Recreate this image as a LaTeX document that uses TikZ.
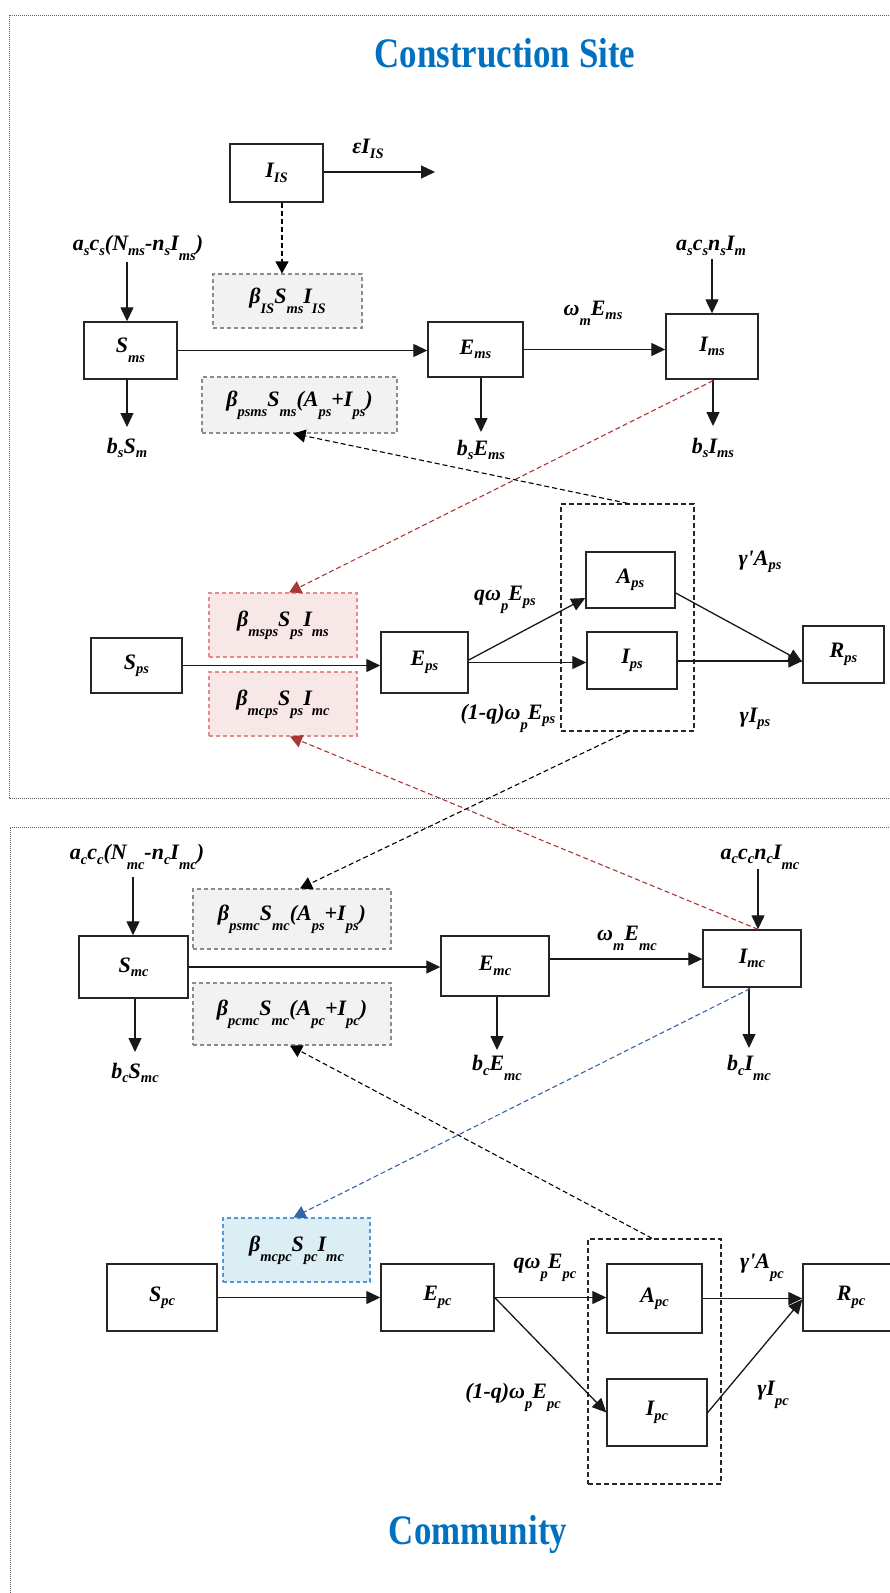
\documentclass[tikz,border=0pt]{standalone}
\usepackage{fontspec}
\setmainfont{Liberation Serif}
\newfontfamily\titlefont[FakeStretch=0.83]{Liberation Serif}
\usetikzlibrary{arrows.meta,calc}
\newcommand\ssb[1]{\raisebox{-0.2em}{\fontsize{14.5}{14.5}\selectfont #1}}
\newcommand\dsb[1]{\raisebox{-0.45em}{\fontsize{14.5}{14.5}\selectfont #1}}
\newcommand\apo{\textquotesingle}
\definecolor{ttl}{RGB}{0,112,192}
\definecolor{dred}{RGB}{170,55,55}
\definecolor{dblue}{RGB}{55,100,165}
\definecolor{pinkfill}{RGB}{248,231,231}
\definecolor{pinkdraw}{RGB}{228,140,140}
\definecolor{bluefill}{RGB}{219,238,244}
\definecolor{bluedraw}{RGB}{80,150,225}
\definecolor{grayfill}{RGB}{242,242,242}
\definecolor{graydraw}{RGB}{140,140,140}
\definecolor{frm}{RGB}{90,90,90}
\tikzset{
  every node/.style={font=\fontsize{22}{25}\selectfont\bfseries\itshape, inner sep=0pt},
  box/.style={draw=black!85, line width=1.4pt, fill=white},
  gbox/.style={draw=graydraw, dash pattern=on 4pt off 3pt, line width=1.1pt, fill=grayfill},
  pbox/.style={draw=pinkdraw, dash pattern=on 4pt off 3pt, line width=1.1pt, fill=pinkfill},
  bbox/.style={draw=bluedraw, dash pattern=on 4pt off 3pt, line width=1.1pt, fill=bluefill},
  grp/.style={draw=black!85, dash pattern=on 5pt off 3pt, line width=1.4pt},
  arr/.style={-{Triangle[length=14pt,width=13pt]}, line width=1.3pt, black!90},
  darr/.style={-{Triangle[length=12pt,width=13pt]}, dash pattern=on 5pt off 3pt, line width=1.1pt},
  frame/.style={frm, line width=0.8pt, dash pattern=on 1pt off 1pt},
  ttlnode/.style={font=\titlefont\fontsize{42}{46}\selectfont\bfseries, text=ttl},
}
\begin{document}
\begin{tikzpicture}[x=1pt,y=-1pt]
\useasboundingbox[fill=white] (0,0) rectangle (889,1593);
% frames
\draw[frame] (895,15) -- (9,15) -- (9,798) -- (895,798);
\draw[frame] (895,827) -- (10,827) -- (10,1600);
\node[ttlnode] (t1) at (505,53) {Construction Site};
\node[ttlnode] (t2) at (478,1534) {Community};

% ---------- construction site ----------
\node[box, minimum width=93pt, minimum height=58pt] (IIS) at (276.5,173) {I\ssb{IS}};
\node[gbox, minimum width=149pt, minimum height=54pt] (bIS) at (287.5,301) {β\dsb{IS}S\dsb{ms}I\dsb{IS}};
\node[box, minimum width=93pt, minimum height=57pt] (Sms) at (130.5,350.5) {S\dsb{ms}};
\node[box, minimum width=95pt, minimum height=55pt] (Ems) at (475.5,349.5) {E\ssb{ms}};
\node[box, minimum width=92pt, minimum height=65pt] (Ims) at (712,346.5) {I\ssb{ms}};
\node[gbox, minimum width=195pt, minimum height=56pt] (bpsms) at (299.5,405) {β\dsb{psms}S\dsb{ms}(A\dsb{ps}+I\dsb{ps})};
\node[grp, minimum width=133pt, minimum height=227pt] (g1) at (627.5,617.5) {};
\node[box, minimum width=89pt, minimum height=56pt] (Aps) at (630.5,580) {A\ssb{ps}};
\node[box, minimum width=90pt, minimum height=57pt] (Ips) at (632,660.5) {I\ssb{ps}};
\node[box, minimum width=81pt, minimum height=57pt] (Rps) at (843.5,654.5) {R\ssb{ps}};
\node[box, minimum width=91pt, minimum height=55pt] (Sps) at (136.5,665.5) {S\ssb{ps}};
\node[box, minimum width=87pt, minimum height=61pt] (Eps) at (424.5,662.5) {E\ssb{ps}};
\node[pbox, minimum width=148pt, minimum height=64pt] (bmsps) at (283,625) {β\dsb{msps}S\dsb{ps}I\dsb{ms}};
\node[pbox, minimum width=148pt, minimum height=64pt] (bmcps) at (283,704) {β\dsb{mcps}S\dsb{ps}I\dsb{mc}};

\node (lIIS) at (368,149) {εI\ssb{IS}};
\coordinate (eIIS) at (435,172);
\draw[arr] (IIS.east |- eIIS) -- (eIIS);
\draw[darr] ($(IIS.south)+(5.5,0)$) -- ($(bIS.north)+(-5.5,0)$);

\node (las) at (138,248) {a\ssb{s}c\ssb{s}(N\ssb{ms}-n\ssb{s}I\dsb{ms})};
\draw[arr] ($(Sms.north)+(-3.5,-59)$) -- ($(Sms.north)+(-3.5,0)$);
\draw[arr] (Sms.east) -- (Sms.east -| Ems.west);
\coordinate (dSms) at (127,427);
\draw[arr] (Sms.south -| dSms) -- (dSms);
\node (lbsSm) at (127,448) {b\ssb{s}S\ssb{m}};

\draw[arr] (Ems.east) -- (Ems.east -| Ims.west);
\node (lwm) at (593,313) {ω\dsb{m}E\ssb{ms}};
\node (lasn) at (711,246) {a\ssb{s}c\ssb{s}n\ssb{s}I\ssb{m}};
\draw[arr] ($(Ims.north)+(0,-54)$) -- (Ims.north);
\coordinate (dEms) at (481,432);
\draw[arr] (Ems.south -| dEms) -- (dEms);
\node (lbsE) at (481,450) {b\ssb{s}E\ssb{ms}};
\coordinate (dIms) at (713,426);
\draw[arr] (Ims.south -| dIms) -- (dIms);
\node (lbsI) at (713,448) {b\ssb{s}I\ssb{ms}};

\draw[darr, dred] ($(Ims.south)+(1,1)$) -- ($(bmsps.north)+(6,0)$);
\draw[darr] ($(g1.north)+(0,0)$) -- ($(bpsms.south)+(-6,0)$);

\draw[arr] (Sps.east) -- (Sps.east -| Eps.west);
\draw[arr] ($(Eps.east)+(0,-2.5)$) -- ($(Aps.west)+(0,18)$);
\draw[arr] (Eps.east) -- (Eps.east -| Ips.west);
\draw[arr] ($(Aps.east)+(0,13)$) -- ($(Rps.west)+(0,7.5)$);
\draw[arr] ($(Ips.east)+(0,0.5)$) -- ($(Rps.west)+(0,6.5)$);
\node (lqps) at (505,600) {qω\dsb{p}E\ssb{ps}};
\node (l1qps) at (508,718) {(1-q)ω\dsb{p}E\ssb{ps}};
\node (lgAps) at (760,562) {γ\apo A\ssb{ps}};
\node (lgIps) at (755,719) {γI\ssb{ps}};

% ---------- community ----------
\node[box, minimum width=109pt, minimum height=62pt] (Smc) at (133.5,967) {S\ssb{mc}};
\node[box, minimum width=108pt, minimum height=60pt] (Emc) at (495,966) {E\ssb{mc}};
\node[box, minimum width=98pt, minimum height=57pt] (Imc) at (752,958.5) {I\ssb{mc}};
\node[gbox, minimum width=198pt, minimum height=60pt] (bpsmc) at (292,919) {β\dsb{psmc}S\dsb{mc}(A\dsb{ps}+I\dsb{ps})};
\node[gbox, minimum width=198pt, minimum height=62pt] (bpcmc) at (292,1014) {β\dsb{pcmc}S\dsb{mc}(A\dsb{pc}+I\dsb{pc})};
\node[bbox, minimum width=147pt, minimum height=64pt] (bmcpc) at (296.5,1250) {β\dsb{mcpc}S\dsb{pc}I\dsb{mc}};
\node[box, minimum width=110pt, minimum height=67pt] (Spc) at (162,1297.5) {S\ssb{pc}};
\node[box, minimum width=113pt, minimum height=67pt] (Epc) at (437.5,1297.5) {E\ssb{pc}};
\node[grp, minimum width=133pt, minimum height=245pt] (g2) at (654.5,1361.5) {};
\node[box, minimum width=95pt, minimum height=69pt] (Apc) at (654.5,1298.5) {A\ssb{pc}};
\node[box, minimum width=100pt, minimum height=67pt] (Ipc) at (657,1412.5) {I\ssb{pc}};
\node[box, minimum width=96pt, minimum height=67pt] (Rpc) at (851,1297.5) {R\ssb{pc}};

\draw[darr] (g1.south) -- ($(bpsmc.north)+(8,0)$);
\draw[darr, dred] ($(Imc.north)+(6,0)$) -- ($(bmcps.south)+(7,0)$);

\node (lac) at (137,857) {a\ssb{c}c\ssb{c}(N\dsb{mc}-n\ssb{c}I\dsb{mc})};
\draw[arr] ($(Smc.north)+(-0.5,-58)$) -- ($(Smc.north)+(-0.5,0)$);
\draw[arr] (Smc.east) -- (Smc.east -| Emc.west);
\coordinate (dSmc) at (135,1052);
\draw[arr] (Smc.south -| dSmc) -- (dSmc);
\node (lbcS) at (135,1073) {b\ssb{c}S\ssb{mc}};

\draw[arr] ($(Emc.east)+(0,-7)$) -- ($(Imc.west)+(0,0.5)$);
\node (lwmc) at (627,938) {ω\dsb{m}E\dsb{mc}};
\node (lacn) at (760,857) {a\ssb{c}c\ssb{c}n\ssb{c}I\dsb{mc}};
\draw[arr] ($(Imc.north)+(6,-60)$) -- ($(Imc.north)+(6,0)$);
\coordinate (dEmc) at (497,1050);
\draw[arr] (Emc.south -| dEmc) -- (dEmc);
\node (lbcE) at (497,1068) {b\ssb{c}E\dsb{mc}};
\coordinate (dImc) at (749,1048);
\draw[arr] (Imc.south -| dImc) -- (dImc);
\node (lbcI) at (749,1068) {b\ssb{c}I\dsb{mc}};

\draw[darr, dblue] ($(Imc.south)+(-2,1)$) -- ($(bmcpc.north)+(-3,0)$);
\draw[darr] ($(g2.north)+(-2.5,0)$) -- ($(bpcmc.south)+(-2,0)$);

\draw[arr] (Spc.east) -- (Spc.east -| Epc.west);
\draw[arr] (Epc.east) -- (Epc.east -| Apc.west);
\draw[arr] (Epc.east) -- (Ipc.west);
\draw[arr] (Apc.east) -- (Apc.east -| Rpc.west);
\draw[arr] (Ipc.east) -- ($(Rpc.west)+(0,2)$);
\node (lqpc) at (545,1268) {qω\dsb{p}E\dsb{pc}};
\node (l1qpc) at (513,1397) {(1-q)ω\dsb{p}E\dsb{pc}};
\node (lgApc) at (762,1268) {γ\apo A\dsb{pc}};
\node (lgIpc) at (773,1395) {γI\dsb{pc}};
\end{tikzpicture}
\end{document}
